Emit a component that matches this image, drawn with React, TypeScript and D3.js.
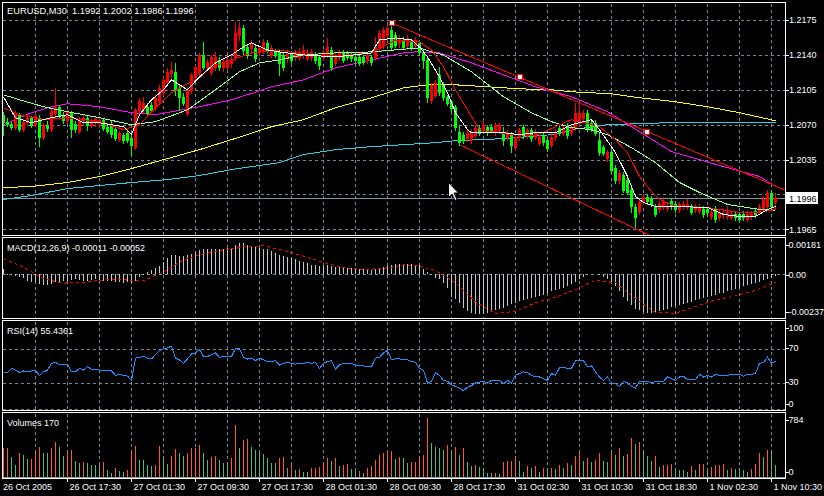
import { useEffect, useRef } from 'react';
import * as d3 from 'd3';

const W = 824;
const H = 496;
const FONT = "'Liberation Sans', Arial, sans-serif";

const TITLE = 'EURUSD,M30\u00a0\u00a01.1992 1.2002 1.1986 1.1996';
const MACD_TITLE = 'MACD(12,26,9) -0.00011 -0.00052';
const RSI_TITLE = 'RSI(14) 55.4361';
const VOL_TITLE = 'Volumes 170';

// open, high, low, close per M30 bar (26 Oct 09:30 .. 1 Nov 11:00)
const OHLC: [number, number, number, number][] = [
  [1.2080,1.2083,1.2060,1.2073],[1.2073,1.2077,1.2069,1.2071],[1.2071,1.2073,1.2066,1.2068],[1.2068,1.2084,1.2066,1.2081],
  [1.2080,1.2082,1.2064,1.2066],[1.2066,1.2076,1.2064,1.2073],[1.2073,1.2080,1.2070,1.2077],[1.2077,1.2079,1.2068,1.2070],
  [1.2070,1.2082,1.2069,1.2079],[1.2077,1.2080,1.2049,1.2058],[1.2058,1.2072,1.2056,1.2070],[1.2070,1.2074,1.2064,1.2067],
  [1.2066,1.2087,1.2064,1.2084],[1.2082,1.2107,1.2078,1.2088],[1.2088,1.2090,1.2078,1.2080],[1.2080,1.2083,1.2072,1.2075],
  [1.2075,1.2086,1.2072,1.2083],[1.2082,1.2084,1.2058,1.2066],[1.2071,1.2074,1.2063,1.2066],[1.2064,1.2078,1.2062,1.2075],
  [1.2075,1.2080,1.2070,1.2077],[1.2077,1.2079,1.2065,1.2070],[1.2070,1.2076,1.2068,1.2074],[1.2073,1.2078,1.2069,1.2076],
  [1.2072,1.2077,1.2068,1.2075],[1.2075,1.2077,1.2065,1.2067],[1.2068,1.2072,1.2062,1.2064],[1.2071,1.2074,1.2058,1.2061],
  [1.2066,1.2068,1.2055,1.2057],[1.2056,1.2064,1.2054,1.2062],[1.2060,1.2062,1.2052,1.2055],[1.2062,1.2064,1.2053,1.2055],
  [1.2057,1.2060,1.2040,1.2050],[1.2048,1.2087,1.2046,1.2085],[1.2085,1.2097,1.2082,1.2094],[1.2085,1.2098,1.2083,1.2092],
  [1.2088,1.2092,1.2080,1.2082],[1.2090,1.2093,1.2083,1.2085],[1.2088,1.2100,1.2085,1.2097],[1.2095,1.2110,1.2093,1.2107],
  [1.2103,1.2118,1.2100,1.2115],[1.2113,1.2127,1.2110,1.2123],[1.2122,1.2133,1.2118,1.2125],[1.2123,1.2132,1.2100,1.2105],
  [1.2107,1.2110,1.2085,1.2098],[1.2098,1.2102,1.2090,1.2092],[1.2082,1.2108,1.2080,1.2105],[1.2105,1.2122,1.2102,1.2120],
  [1.2118,1.2130,1.2115,1.2128],[1.2123,1.2142,1.2120,1.2140],[1.2140,1.2153,1.2126,1.2128],[1.2128,1.2136,1.2125,1.2133],
  [1.2123,1.2140,1.2120,1.2138],[1.2128,1.2143,1.2125,1.2138],[1.2135,1.2138,1.2125,1.2128],[1.2128,1.2136,1.2124,1.2133],
  [1.2128,1.2138,1.2126,1.2135],[1.2132,1.2140,1.2128,1.2135],[1.2138,1.2173,1.2135,1.2162],[1.2160,1.2173,1.2155,1.2167],
  [1.2167,1.2170,1.2140,1.2145],[1.2148,1.2151,1.2137,1.2140],[1.2147,1.2155,1.2142,1.2152],[1.2147,1.2150,1.2134,1.2137],
  [1.2143,1.2149,1.2140,1.2147],[1.2145,1.2156,1.2142,1.2153],[1.2152,1.2155,1.2143,1.2145],[1.2140,1.2150,1.2138,1.2147],
  [1.2143,1.2146,1.2138,1.2140],[1.2143,1.2145,1.2120,1.2132],[1.2140,1.2143,1.2125,1.2128],[1.2138,1.2145,1.2133,1.2142],
  [1.2142,1.2144,1.2132,1.2135],[1.2138,1.2145,1.2135,1.2143],[1.2138,1.2147,1.2135,1.2143],[1.2140,1.2150,1.2137,1.2145],
  [1.2137,1.2146,1.2135,1.2142],[1.2138,1.2146,1.2135,1.2143],[1.2140,1.2143,1.2132,1.2135],[1.2138,1.2140,1.2126,1.2130],
  [1.2138,1.2146,1.2135,1.2143],[1.2142,1.2157,1.2138,1.2148],[1.2145,1.2148,1.2125,1.2128],[1.2132,1.2142,1.2130,1.2140],
  [1.2138,1.2145,1.2135,1.2142],[1.2142,1.2145,1.2133,1.2135],[1.2142,1.2144,1.2136,1.2138],[1.2140,1.2142,1.2134,1.2137],
  [1.2138,1.2140,1.2132,1.2135],[1.2138,1.2140,1.2130,1.2132],[1.2138,1.2140,1.2131,1.2133],[1.2135,1.2143,1.2132,1.2140],
  [1.2138,1.2140,1.2130,1.2133],[1.2138,1.2158,1.2135,1.2148],[1.2148,1.2165,1.2145,1.2162],[1.2150,1.2168,1.2147,1.2165],
  [1.2160,1.2170,1.2155,1.2167],[1.2165,1.2172,1.2145,1.2148],[1.2160,1.2163,1.2148,1.2150],[1.2152,1.2160,1.2148,1.2157],
  [1.2155,1.2158,1.2146,1.2148],[1.2150,1.2160,1.2146,1.2157],[1.2153,1.2156,1.2145,1.2147],[1.2150,1.2158,1.2147,1.2155],
  [1.2152,1.2155,1.2140,1.2143],[1.2142,1.2145,1.2127,1.2135],[1.2135,1.2138,1.2093,1.2098],[1.2095,1.2112,1.2092,1.2110],
  [1.2100,1.2115,1.2098,1.2112],[1.2120,1.2128,1.2100,1.2103],[1.2110,1.2113,1.2095,1.2098],[1.2098,1.2100,1.2090,1.2092],
  [1.2093,1.2095,1.2084,1.2087],[1.2088,1.2090,1.2065,1.2068],[1.2063,1.2070,1.2050,1.2053],[1.2060,1.2063,1.2052,1.2055],
  [1.2057,1.2065,1.2054,1.2062],[1.2055,1.2066,1.2052,1.2063],[1.2060,1.2070,1.2058,1.2067],[1.2067,1.2070,1.2060,1.2062],
  [1.2065,1.2075,1.2062,1.2070],[1.2068,1.2070,1.2060,1.2063],[1.2068,1.2071,1.2063,1.2065],[1.2063,1.2073,1.2060,1.2070],
  [1.2065,1.2072,1.2062,1.2070],[1.2063,1.2068,1.2050,1.2055],[1.2058,1.2065,1.2055,1.2063],[1.2060,1.2063,1.2043,1.2050],
  [1.2048,1.2060,1.2045,1.2058],[1.2058,1.2067,1.2055,1.2065],[1.2068,1.2070,1.2057,1.2060],[1.2060,1.2067,1.2057,1.2065],
  [1.2065,1.2067,1.2054,1.2057],[1.2058,1.2066,1.2056,1.2063],[1.2052,1.2060,1.2050,1.2058],[1.2060,1.2062,1.2050,1.2053],
  [1.2055,1.2057,1.2044,1.2047],[1.2050,1.2062,1.2048,1.2058],[1.2058,1.2066,1.2055,1.2062],[1.2067,1.2070,1.2060,1.2062],
  [1.2062,1.2070,1.2060,1.2067],[1.2068,1.2072,1.2057,1.2060],[1.2063,1.2070,1.2060,1.2068],[1.2067,1.2092,1.2065,1.2082],
  [1.2072,1.2092,1.2070,1.2082],[1.2077,1.2085,1.2074,1.2082],[1.2082,1.2085,1.2064,1.2067],[1.2072,1.2075,1.2064,1.2067],
  [1.2072,1.2075,1.2060,1.2062],[1.2055,1.2062,1.2040,1.2043],[1.2048,1.2050,1.2040,1.2042],[1.2037,1.2045,1.2034,1.2043],
  [1.2043,1.2045,1.2022,1.2025],[1.2027,1.2030,1.2012,1.2015],[1.2015,1.2025,1.2012,1.2022],[1.2020,1.2023,1.2003,1.2005],
  [1.2015,1.2017,1.2000,1.2003],[1.2005,1.2008,1.1982,1.1988],[1.1987,1.1990,1.1967,1.1977],[1.1983,1.1995,1.1980,1.1992],
  [1.1992,1.2000,1.1990,1.1997],[1.1997,1.2000,1.1990,1.1993],[1.1995,1.1998,1.1988,1.1990],[1.1987,1.1990,1.1978,1.1980],
  [1.1985,1.1993,1.1982,1.1990],[1.1987,1.1997,1.1985,1.1993],[1.1986,1.1992,1.1983,1.1988],[1.1993,1.1996,1.1985,1.1988],
  [1.1990,1.1993,1.1982,1.1985],[1.1985,1.1992,1.1982,1.1990],[1.1988,1.1993,1.1985,1.1990],[1.1987,1.1995,1.1985,1.1990],
  [1.1987,1.1990,1.1980,1.1982],[1.1985,1.1990,1.1982,1.1988],[1.1983,1.1990,1.1981,1.1987],[1.1985,1.1988,1.1977,1.1980],
  [1.1985,1.1987,1.1979,1.1982],[1.1978,1.1985,1.1975,1.1982],[1.1985,1.1988,1.1972,1.1975],[1.1977,1.1985,1.1974,1.1982],
  [1.1980,1.1985,1.1976,1.1980],[1.1978,1.1988,1.1975,1.1982],[1.1977,1.1983,1.1975,1.1980],[1.1980,1.1983,1.1974,1.1977],
  [1.1980,1.1982,1.1972,1.1975],[1.1980,1.1983,1.1974,1.1977],[1.1975,1.1983,1.1973,1.1980],[1.1978,1.1983,1.1975,1.1980],
  [1.1983,1.1985,1.1977,1.1980],[1.1982,1.1990,1.1980,1.1987],[1.1985,1.1998,1.1983,1.1995],[1.1988,1.2005,1.1986,1.2002],
  [1.2002,1.2005,1.1985,1.1988],[1.1992,1.2002,1.1986,1.1996],
];

const VOLUMES = [
  383,390,273,163,317,295,242,245,317,405,
  317,317,392,471,405,286,317,361,216,185,
  207,185,163,163,160,207,97,53,128,84,
  66,97,339,418,229,229,163,150,158,418,
  260,172,286,374,317,286,317,383,390,427,
  317,229,273,280,229,185,172,251,682,392,
  497,500,405,361,339,304,251,185,185,260,
  265,128,172,97,110,75,75,119,121,141,
  172,260,216,251,154,158,172,110,84,88,
  53,119,154,229,295,317,339,348,242,273,
  260,195,200,207,286,295,784,449,405,383,
  361,427,339,396,295,392,207,154,163,141,
  110,57,57,60,44,207,210,215,273,220,
  75,150,119,150,75,128,119,122,110,163,
  119,194,163,286,339,216,251,207,229,317,
  216,207,317,295,392,286,304,515,436,471,
  348,286,216,286,141,163,165,172,110,97,
  95,75,150,97,172,175,110,141,163,165,
  172,97,119,110,105,97,75,110,172,317,
  273,361,348,170,
];

// MACD main, in points of 0.00001
const MACD_HIST = [
  25,-6,-10,-14,-21,-27,-41,-48,-52,-62,
  -68,-68,-62,-52,-48,-41,-41,-35,-31,-35,
  -41,-41,-35,-31,-35,-41,-41,-41,-48,-52,
  -56,-52,-56,-41,-21,-6,10,21,31,48,
  72,93,110,110,104,104,110,118,130,139,
  145,145,145,149,149,149,151,155,172,181,
  180,170,166,159,155,149,145,135,124,114,
  104,97,93,89,77,68,62,52,52,48,
  48,52,46,41,41,37,35,31,31,27,
  27,23,23,27,35,41,48,52,56,56,
  56,56,56,54,50,29,8,-8,-23,-33,
  -54,-85,-137,-152,-172,-202,-222,-236,-237,-237,
  -237,-232,-222,-216,-212,-202,-192,-182,-172,-162,
  -156,-152,-142,-137,-132,-126,-116,-106,-95,-91,
  -85,-75,-64,-50,-33,-17,-8,-2,-2,-8,
  -17,-33,-54,-75,-106,-137,-161,-188,-209,-219,
  -230,-236,-236,-230,-224,-219,-209,-199,-195,-188,
  -178,-174,-168,-157,-153,-147,-137,-132,-126,-116,
  -112,-106,-95,-91,-85,-75,-70,-64,-58,-50,
  -37,-29,-23,-11,
];

// MACD signal [bar, points]
const MACD_SIGNAL: [number, number][] = [
  [0,89],[5,39],[10,-31],[15,-56],[20,-52],[25,-37],[30,-37],[35,-41],[40,10],[45,83],
  [50,118],[55,139],[60,159],[65,166],[70,139],[75,104],[80,68],[85,35],[90,25],[95,31],
  [100,52],[103,50],[108,19],[113,-54],[118,-168],[123,-236],[128,-224],[133,-174],[138,-141],[143,-95],
  [148,-39],[153,-54],[158,-147],[163,-230],[168,-236],[173,-195],[178,-157],[183,-132],[188,-99],[193,-52],
];

const RSI = [
  42,42,47,45,42,44,43,44,44,39,
  43,45,53,54,51,51,52,43,43,47,
  45,49,46,46,45,45,44,44,39,40,
  39,38,33,59,60,61,59,58,63,68,
  70,71,73,59,57,53,58,64,65,69,
  61,61,63,65,60,61,61,61,70,70,
  60,58,59,56,59,57,55,55,56,51,
  53,54,53,52,53,53,54,53,54,47,
  53,55,56,46,51,53,53,53,51,50,
  50,49,49,59,60,65,68,57,58,58,
  57,57,55,54,47,45,30,32,42,39,
  33,32,28,26,24,21,25,27,30,31,
  32,30,33,33,33,29,33,30,39,41,
  43,42,39,37,37,35,33,41,39,48,
  48,47,47,56,57,56,49,50,43,37,
  33,37,30,29,26,32,30,26,24,32,
  32,32,30,32,32,32,37,35,33,37,
  38,34,34,34,40,37,39,37,40,39,
  39,39,40,40,40,38,40,40,41,53,
  54,60,53,55.4361,
];

// moving averages [bar, price]
const MA_WHITE: [number, number][] = [
  [0,1.2098],[3,1.2077],[7,1.2072],[12,1.2077],[16,1.2080],[20,1.2072],[24,1.2072],[30,1.2068],[32,1.2060],
  [34,1.2080],[37,1.2095],[40,1.2105],[42,1.2115],[44,1.2110],[46,1.2105],[49,1.2118],[51,1.2125],[53,1.2132],
  [57,1.2140],[60,1.2148],[62,1.2152],[66,1.2145],[69,1.2143],[75,1.2140],[83,1.2138],[92,1.2142],[94,1.2155],
  [98,1.2157],[102,1.2155],[104,1.2148],[106,1.2138],[109,1.2118],[111,1.2102],[113,1.2082],[116,1.2065],
  [117,1.2062],[120,1.2062],[125,1.2062],[129,1.2060],[133,1.2062],[138,1.2062],[142,1.2070],[147,1.2075],
  [149,1.2065],[153,1.2042],[156,1.2018],[158,1.1998],[160,1.1992],[163,1.1988],[168,1.1988],[176,1.1987],
  [180,1.1980],[184,1.1978],[188,1.1978],[191,1.1985],[193,1.1988],
];
const MA_RED: [number, number][] = [
  [0,1.2087],[4,1.2080],[10,1.2075],[16,1.2077],[24,1.2073],[30,1.2065],[34,1.2070],[38,1.2087],[42,1.2102],
  [46,1.2111],[49,1.2117],[52,1.2128],[57,1.2135],[62,1.2142],[69,1.2145],[75,1.2140],[83,1.2139],[92,1.2142],
  [98,1.2155],[104,1.2153],[107,1.2145],[110,1.2128],[113,1.2105],[117,1.2078],[119,1.2065],[125,1.2061],
  [133,1.2059],[142,1.2075],[149,1.2068],[153,1.2055],[156,1.2042],[159,1.2018],[162,1.2003],[164,1.1995],
  [168,1.1988],[176,1.1987],[184,1.1982],[189,1.1982],[193,1.1985],
];
const MA_PALEGREEN: [number, number][] = [
  [0,1.2100],[4,1.2095],[10,1.2088],[16,1.2083],[24,1.2077],[32,1.2070],[38,1.2073],[46,1.2085],[53,1.2105],
  [59,1.2123],[64,1.2132],[69,1.2135],[75,1.2140],[83,1.2142],[92,1.2143],[98,1.2145],[104,1.2147],[107,1.2143],
  [110,1.2140],[117,1.2123],[125,1.2098],[132,1.2082],[137,1.2073],[142,1.2067],[147,1.2065],[151,1.2060],
  [157,1.2047],[163,1.2032],[169,1.2012],[174,1.2002],[181,1.1990],[189,1.1985],[193,1.1984],
];
const MA_MAGENTA: [number, number][] = [
  [0,1.2070],[4,1.2077],[7,1.2082],[12,1.2088],[16,1.2091],[24,1.2088],[32,1.2082],[38,1.2080],[42,1.2083],
  [49,1.2088],[57,1.2095],[64,1.2104],[67,1.2108],[75,1.2115],[83,1.2127],[92,1.2135],[100,1.2142],[103,1.2143],
  [109,1.2142],[117,1.2132],[125,1.2120],[133,1.2108],[142,1.2098],[151,1.2083],[157,1.2068],[167,1.2043],
  [180,1.2028],[189,1.2018],[193,1.2008],
];
const MA_YELLOW: [number, number][] = [
  [0,1.2007],[7,1.2008],[16,1.2012],[24,1.2018],[32,1.2026],[41,1.2036],[49,1.2045],[57,1.2055],[67,1.2068],
  [75,1.2075],[83,1.2087],[92,1.2097],[100,1.2107],[106,1.2110],[113,1.2110],[121,1.2108],[129,1.2106],
  [137,1.2105],[142,1.2103],[152,1.2101],[159,1.2097],[168,1.2093],[176,1.2088],[184,1.2082],[193,1.2074],
];
const MA_CYAN: [number, number][] = [
  [0,1.1995],[7,1.1999],[16,1.2006],[24,1.2009],[32,1.2012],[41,1.2015],[49,1.2019],[57,1.2025],[69,1.2032],
  [75,1.2040],[83,1.2045],[92,1.2048],[100,1.2050],[108,1.2052],[113,1.2054],[125,1.2056],[137,1.2060],
  [142,1.2065],[151,1.2070],[166,1.2072],[193,1.2072],
];

// trend lines drawn on the chart [bar, price] anchors
const TREND_TOP: [number, number][] = [[97, 1.2172], [161, 1.2063]];
const TREND_LOW: [number, number][] = [[114, 1.2050], [161, 1.1960]];

const BID = 1.1996;
const PRICE_TICKS = [1.2175, 1.2140, 1.2105, 1.2070, 1.2035, 1.2000, 1.1965];
const MACD_TICKS = [181, 0, -237];
const MACD_TICK_LABELS = ['0.00181', '0.00', '-0.00237'];
const RSI_LEVELS = [70, 30];
const RSI_TICKS = [100, 70, 30, 0];
const VOL_TICKS = [784, 0];
const TIME_LABELS: [number, string][] = [
  [0, '26 Oct 2005'], [16, '26 Oct 17:30'], [32, '27 Oct 01:30'], [48, '27 Oct 09:30'],
  [64, '27 Oct 17:30'], [80, '28 Oct 01:30'], [96, '28 Oct 09:30'], [112, '28 Oct 17:30'],
  [128, '31 Oct 02:30'], [144, '31 Oct 10:30'], [160, '31 Oct 18:30'], [176, '1 Nov 02:30'],
  [192, '1 Nov 10:30'],
];

export default function App() {
  const svgRef = useRef<SVGSVGElement>(null);

  useEffect(() => {
    if (!svgRef.current) return;
    document.body.style.margin = '0';
    document.body.style.background = '#000';

    const svg = d3.select(svgRef.current).attr('width', W).attr('height', H);
    svg.selectAll('*').remove();
    svg.append('rect').attr('width', W).attr('height', H).attr('fill', '#000');

    const L = 2.5, R = 785.5;
    const panels = {
      main: { top: 2.5, bottom: 235.5 },
      macd: { top: 237.5, bottom: 318.5 },
      rsi: { top: 320.5, bottom: 410.5 },
      vol: { top: 412.5, bottom: 478.5 },
    };

    const n = OHLC.length;
    const x = d3.scaleLinear().domain([0, n - 1]).range([3.5, 3.5 + 4 * (n - 1)]);
    const yMain = d3.scaleLinear().domain([1.1965, 1.2175]).range([229.4, 20]);
    const yMacd = d3.scaleLinear().domain([-237, 181]).range([313.5, 243.3]);
    const yRsi = d3.scaleLinear().domain([0, 100]).range([408.7, 323]);
    const yVol = d3.scaleLinear().domain([0, 784]).range([477.5, 417.7]);
    const px = (v: number) => Math.round(v) + 0.5;

    const defs = svg.append('defs');
    Object.entries(panels).forEach(([k, p]) => {
      defs.append('clipPath').attr('id', `clip-${k}`)
        .append('rect').attr('x', L + 0.5).attr('y', p.top + 0.5)
        .attr('width', R - L - 1).attr('height', p.bottom - p.top - 1);
    });

    const grid = '#778899';
    const dash = '3,3';

    const root = svg.append('g').attr('shape-rendering', 'crispEdges');

    // vertical grid in every panel
    const gridBars = d3.range(8, n, 8);
    Object.values(panels).forEach(p => {
      root.append('g').selectAll('line').data(gridBars).join('line')
        .attr('x1', d => x(d)).attr('x2', d => x(d))
        .attr('y1', p.top + 1).attr('y2', p.bottom - 1)
        .attr('stroke', grid).attr('stroke-dasharray', dash);
    });

    // ---------- main panel ----------
    const gMain = root.append('g').attr('clip-path', 'url(#clip-main)');
    gMain.selectAll('line.hg').data(PRICE_TICKS).join('line').attr('class', 'hg')
      .attr('x1', L).attr('x2', R).attr('y1', d => px(yMain(d))).attr('y2', d => px(yMain(d)))
      .attr('stroke', grid).attr('stroke-dasharray', dash);

    // bid line
    gMain.append('line').attr('x1', L).attr('x2', R)
      .attr('y1', px(yMain(BID))).attr('y2', px(yMain(BID))).attr('stroke', '#8190a0');

    const maLine = d3.line<[number, number]>().x(d => x(d[0])).y(d => yMain(d[1]));
    const drawMa = (data: [number, number][], color: string) =>
      gMain.append('path').datum(data).attr('d', maLine).attr('fill', 'none')
        .attr('stroke', color).attr('stroke-width', 1);

    drawMa(MA_CYAN, '#22d3e6');
    drawMa(MA_YELLOW, '#ffff00');
    drawMa(MA_MAGENTA, '#ff00ff');

    // trend lines (rays to the right)
    const ray = (a: [number, number], b: [number, number]) => {
      const x1 = x(a[0]), y1 = yMain(a[1]), x2 = x(b[0]), y2 = yMain(b[1]);
      const m = (y2 - y1) / (x2 - x1);
      return { x1, y1, x2: R, y2: y1 + m * (R - x1) };
    };
    [TREND_TOP, TREND_LOW].forEach(t => {
      const r = ray(t[0], t[1]);
      gMain.append('line').attr('x1', r.x1).attr('y1', r.y1).attr('x2', r.x2).attr('y2', r.y2)
        .attr('stroke', '#ff0000');
    });

    // candles
    const candles = gMain.append('g');
    OHLC.forEach(([o, h, l, c], i) => {
      const col = c >= o ? '#ff0000' : '#00ff00';
      const cx = x(i);
      candles.append('line').attr('x1', cx).attr('x2', cx)
        .attr('y1', Math.round(yMain(h))).attr('y2', Math.round(yMain(l)) + 1).attr('stroke', col);
      const yt = Math.round(yMain(Math.max(o, c)));
      const yb = Math.round(yMain(Math.min(o, c)));
      candles.append('rect').attr('x', cx - 1.5).attr('y', yt).attr('width', 3)
        .attr('height', Math.max(1, yb - yt + 1)).attr('fill', col);
    });

    drawMa(MA_PALEGREEN, '#98fb98');
    drawMa(MA_RED, '#ff0000');
    drawMa(MA_WHITE, '#ffffff');

    // anchor squares of the selected trend line
    const tA = TREND_TOP[0], tB = TREND_TOP[1];
    const marks: [number, number][] = [tA, [(tA[0] + tB[0]) / 2, (tA[1] + tB[1]) / 2], tB];
    gMain.selectAll('rect.mk').data(marks).join('rect').attr('class', 'mk')
      .attr('x', d => Math.round(x(d[0])) - 2.5).attr('y', d => Math.round(yMain(d[1])) - 2.5)
      .attr('width', 5).attr('height', 5).attr('fill', '#fff').attr('stroke', '#ff0000');

    // mouse pointer
    svg.append('path').attr('transform', 'translate(448.5,182.5)')
      .attr('d', 'M0,0 V15 L3.5,11.5 L6.5,18 L8.5,17 L5.5,10.5 H10 Z')
      .attr('fill', '#fff').attr('stroke', '#000');

    // ---------- MACD ----------
    const gMacd = root.append('g').attr('clip-path', 'url(#clip-macd)');
    gMacd.append('line').attr('x1', L).attr('x2', R)
      .attr('y1', px(yMacd(0))).attr('y2', px(yMacd(0)))
      .attr('stroke', grid).attr('stroke-dasharray', dash);
    gMacd.selectAll('line.h').data(MACD_HIST).join('line').attr('class', 'h')
      .attr('x1', (_, i) => x(i)).attr('x2', (_, i) => x(i))
      .attr('y1', Math.round(yMacd(0))).attr('y2', d => Math.round(yMacd(d)))
      .attr('stroke', '#c0c8d2');
    gMacd.append('path').datum(MACD_SIGNAL)
      .attr('d', d3.line<[number, number]>().x(d => x(d[0])).y(d => yMacd(d[1])))
      .attr('fill', 'none').attr('stroke', '#ff0000').attr('stroke-dasharray', '3,3');

    // ---------- RSI ----------
    const gRsi = root.append('g').attr('clip-path', 'url(#clip-rsi)');
    gRsi.selectAll('line.l').data([...RSI_LEVELS, 0]).join('line').attr('class', 'l')
      .attr('x1', L).attr('x2', R).attr('y1', d => px(yRsi(d))).attr('y2', d => px(yRsi(d)))
      .attr('stroke', grid).attr('stroke-dasharray', dash);
    gRsi.append('path').datum(RSI)
      .attr('d', d3.line<number>().x((_, i) => x(i)).y(d => yRsi(d)))
      .attr('fill', 'none').attr('stroke', '#1e90ff');

    // ---------- Volumes ----------
    const gVol = root.append('g').attr('clip-path', 'url(#clip-vol)');
    gVol.selectAll('line.v').data(VOLUMES).join('line').attr('class', 'v')
      .attr('x1', (_, i) => x(i)).attr('x2', (_, i) => x(i))
      .attr('y1', Math.round(yVol(0))).attr('y2', d => Math.round(yVol(d)))
      .attr('stroke', (d, i) => (i === 0 || d > VOLUMES[i - 1] ? '#ff5a24' : '#4fb883'));
    root.append('line').attr('x1', L).attr('x2', R).attr('y1', 477.5).attr('y2', 477.5)
      .attr('stroke', '#8aa0a8');

    // panel borders
    Object.values(panels).forEach(p => {
      root.append('rect').attr('x', L).attr('y', p.top).attr('width', R - L)
        .attr('height', p.bottom - p.top).attr('fill', 'none').attr('stroke', '#fff');
    });

    // ---------- texts ----------
    const text = (tx: number, ty: number, s: string, fill = '#fff') =>
      svg.append('text').attr('x', tx).attr('y', ty).text(s)
        .attr('fill', fill).attr('font-family', FONT).attr('font-size', 9);

    text(7, 14, TITLE).attr('font-size', 9.3);
    text(7, 251, MACD_TITLE);
    text(7, 334, RSI_TITLE);
    text(7, 426, VOL_TITLE);

    const rightTick = (ty: number) =>
      root.append('line').attr('x1', R).attr('x2', R + 3).attr('y1', px(ty)).attr('y2', px(ty)).attr('stroke', '#fff');

    const bidY = yMain(BID);
    PRICE_TICKS.filter(p => Math.abs(yMain(p) - bidY) > 8).forEach(p => {
      rightTick(yMain(p));
      text(789, yMain(p) + 3.3, p.toFixed(4));
    });
    root.append('rect').attr('x', 786).attr('y', Math.round(bidY) - 6).attr('width', 32).attr('height', 12)
      .attr('fill', '#fff');
    text(789, bidY + 3.3, BID.toFixed(4), '#000');

    MACD_TICKS.forEach((v, i) => {
      const ty = Math.min(Math.max(yMacd(v) + 1, panels.macd.top + 7), panels.macd.bottom - 7);
      rightTick(ty);
      text(788.5, ty + 3.3, MACD_TICK_LABELS[i]);
    });
    RSI_TICKS.forEach(v => {
      const ty = Math.min(Math.max(yRsi(v) - 1, panels.rsi.top + 7), panels.rsi.bottom - 7);
      rightTick(ty);
      text(788.5, ty + 3.3, String(v));
    });
    VOL_TICKS.forEach(v => {
      const ty = Math.min(Math.max(yVol(v), panels.vol.top + 7), panels.vol.bottom - 7);
      rightTick(ty);
      text(788.5, ty + 3.3, String(v));
    });

    TIME_LABELS.forEach(([b, s], i) => {
      const tx = x(b);
      if (i > 0) {
        root.append('line').attr('x1', tx).attr('x2', tx)
          .attr('y1', 478.5).attr('y2', 482).attr('stroke', '#fff');
      }
      text(i === 0 ? 3 : tx + 2, 490, s);
    });
  }, []);

  return <svg ref={svgRef} style={{ display: 'block', position: 'absolute', left: 0, top: 0 }} />;
}
